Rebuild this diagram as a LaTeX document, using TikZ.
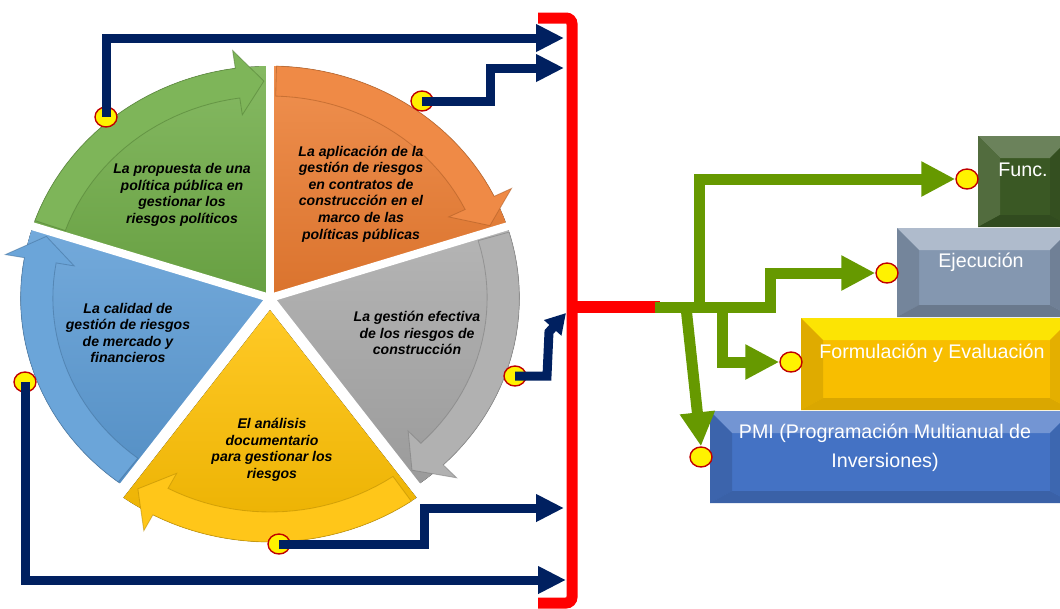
\documentclass[tikz,border=0pt]{standalone}
\usepackage{fontspec}
\setmainfont{Liberation Sans}
\usepackage{tikz}
\usetikzlibrary{arrows.meta,shapes.geometric,calc}
\usepackage{xcolor}
\definecolor{NavyLine}{RGB}{0,32,96}
\definecolor{OliveLine}{RGB}{102,153,0}
\definecolor{DotRed}{RGB}{192,0,0}
\definecolor{WheelGreen}{RGB}{112,173,71}
\definecolor{WheelOrange}{RGB}{237,125,49}
\definecolor{WheelGray}{RGB}{168,168,168}
\definecolor{WheelYellow}{RGB}{255,192,0}
\definecolor{WheelBlue}{RGB}{91,155,213}
\definecolor{FuncGreen}{RGB}{58,88,36}
\definecolor{EjecGray}{RGB}{132,151,176}
\definecolor{FormYellow}{RGB}{248,190,0}
\definecolor{PmiBlue}{RGB}{68,114,196}

% bevelled edges of a step box: top, left, bottom, right
\newcommand{\boxbevel}[5]{%
  \fill[#2] (#1.north west) -- (#1.north east) -- ($(#1.north east)+(-22,22)$) -- ($(#1.north west)+(22,22)$) -- cycle;
  \fill[#3] (#1.north west) -- ($(#1.north west)+(22,22)$) -- ($(#1.south west)+(22,-12)$) -- (#1.south west) -- cycle;
  \fill[#4] (#1.south west) -- ($(#1.south west)+(22,-12)$) -- ($(#1.south east)+(-22,-12)$) -- (#1.south east) -- cycle;
  \fill[#5] (#1.north east) -- ($(#1.north east)+(-22,22)$) -- ($(#1.south east)+(-22,-12)$) -- (#1.south east) -- cycle;
}

\begin{document}
\begin{tikzpicture}[x=0.25mm,y=-0.25mm,
  wheeltext/.style={font=\fontsize{10}{11.8}\selectfont\bfseries\itshape,align=center,text=black},
  boxtext/.style={font=\fontsize{14}{21}\selectfont,align=center,text=white},
  stepbox/.style={rectangle,inner sep=0pt,outer sep=0pt},
  linkdot/.style={ellipse,draw=DotRed,fill=yellow,line width=1pt,minimum width=5.5mm,minimum height=5mm,inner sep=0pt},
  navyarrow/.style={draw=NavyLine,line width=2.25mm,-{Triangle[length=7mm,width=6.5mm]}},
  olivearrow/.style={draw=OliveLine,line width=2.75mm,-{Triangle[length=8.5mm,width=8.25mm]}}]
  \useasboundingbox (0,0) rectangle (1060,608);
  \clip (0,0) rectangle (1060,608);

  % cycle wheel
  \begin{scope}[shift={(270,298)},x=0.26875mm,y=0.25mm]
    \foreach \wa/\wb/\col/\dy in {162/90/WheelGreen/0,90/18/WheelOrange/0,18/-54/WheelGray/0,-54/-126/WheelYellow/-12,-126/-198/WheelBlue/0}{
      \begin{scope}[shift={(0,\dy)}]
        \fill[top color=\col!85!white,bottom color=\col!92!black]
          (0,0) -- plot[domain=\wa:\wb,samples=30] (\x:232) -- cycle;
      \end{scope}
    }
    \foreach \g in {162,90,18,-54,-126}
      \draw[white,line width=2mm] (0,0) -- (\g:260);
    % arrow bands along the rim
    \foreach \wa/\wb/\col/\dy in {162/90/WheelGreen/0,90/18/WheelOrange/0,18/-54/WheelGray/0,-54/-126/WheelYellow/-12,-126/-198/WheelBlue/0}{
      \begin{scope}[shift={(0,\dy)}]
        \filldraw[fill=\col!90!white,draw=\col!70!black,draw opacity=0.5,line width=0.6pt]
          ({\wa-1.5}:202) -- plot[domain=\wa-1.5:\wb+8,samples=25] (\x:232)
          -- ({\wb+8}:250) -- ({\wb+1.5}:217) -- ({\wb+8}:185)
          -- plot[domain=\wb+8:\wa-1.5,samples=25] (\x:202) -- cycle;
      \end{scope}
    }
  \end{scope}

  \node[wheeltext] (propuesta) at (182,195) {La propuesta de una\\política pública en\\gestionar los\\riesgos políticos};
  \node[wheeltext] (aplicacion) at (361,194) {La aplicación de la\\gestión de riesgos\\en contratos de\\construcción en el\\marco de las\\políticas públicas};
  \node[wheeltext] (efectiva) at (417,333) {La gestión efectiva\\de los riesgos de\\construcción};
  \node[wheeltext] (analisis) at (272,450) {El análisis\\documentario\\para gestionar los\\riesgos};
  \node[wheeltext] (calidad) at (128,333) {La calidad de\\gestión de riesgos\\de mercado y\\financieros};

  % step boxes
  \node[stepbox,fill=FuncGreen,minimum width=23.5mm,minimum height=22.75mm] (func) at (1025,181.5) {};
  \boxbevel{func}{FuncGreen!75!white}{FuncGreen!88!white}{FuncGreen!85!black}{FuncGreen!90!black}
  \node[stepbox,fill=EjecGray,minimum width=43.75mm,minimum height=22.25mm] (ejec) at (984.5,272.5) {};
  \boxbevel{ejec}{EjecGray!65!white}{EjecGray!88!black}{EjecGray!80!black}{EjecGray!85!black}
  \node[stepbox,fill=FormYellow,minimum width=67.75mm,minimum height=23mm] (form) at (936.5,364) {};
  \boxbevel{form}{yellow!75!FormYellow}{FormYellow!90!black}{FormYellow!88!black}{FormYellow!92!black}
  \node[stepbox,fill=PmiBlue,minimum width=90.5mm,minimum height=23mm] (pmi) at (891,457) {};
  \boxbevel{pmi}{PmiBlue!75!white}{PmiBlue!88!black}{PmiBlue!85!black}{PmiBlue!90!black}

  \node[boxtext] (funcLbl) at (1023,170) {Func.};
  \node[boxtext] (ejecLbl) at (981,262) {Ejecución};
  \node[boxtext] (formLbl) at (932,353) {Formulación y Evaluación};
  \node[boxtext] (pmiLbl) at (885,448) {PMI (Programación Multianual de\\Inversiones)};

  % navy links into the bracket
  \node[linkdot] (dotProp) at (106,117) {};
  \node[linkdot] (dotApl) at (422,101) {};
  \node[linkdot] (dotEfe) at (515,376) {};
  \node[linkdot] (dotAna) at (279,544) {};
  \node[linkdot] (dotCal) at (25,382) {};
  \coordinate (inProp) at (564,38);
  \coordinate (inApl) at (564,68);
  \coordinate (inEfe) at (566,313);
  \coordinate (inAna) at (564,508);
  \coordinate (inCal) at (566,580);

  \draw[navyarrow] (dotProp.center) |- (inProp);
  \draw[navyarrow] (dotApl.center) -- (490,101) |- (inApl);
  \draw[navyarrow,-{Triangle[length=5mm,width=5.5mm]}] (dotEfe.center) -- (547,376) -- (549,332) -- (inEfe);
  \draw[navyarrow] (dotAna.center) -- (424,544) |- (inAna);
  \draw[navyarrow] (dotCal.center) |- (inCal);

  % red bracket
  \draw[red,line width=2.75mm,rounded corners=1.5mm] (538,18) -- (572,18) -- (572,603) -- (538,603);
  \draw[red,line width=3mm] (572,307) -- (660,307);

  % green links to the steps
  \node[linkdot] (dotFunc) at (967,179) {};
  \node[linkdot] (dotEjec) at (887,273) {};
  \node[linkdot] (dotForm) at (791,362) {};
  \node[linkdot] (dotPmi) at (701,457) {};
  \coordinate (hub) at (655,307);

  \draw[olivearrow] (hub) -- (699,307) |- (dotFunc.west);
  \draw[olivearrow] (hub) -- (770,307) |- (dotEjec.west);
  \draw[olivearrow] (722,307) |- (dotForm.west);
  \draw[olivearrow] (686,307) -- (dotPmi.north);
\end{tikzpicture}
\end{document}
